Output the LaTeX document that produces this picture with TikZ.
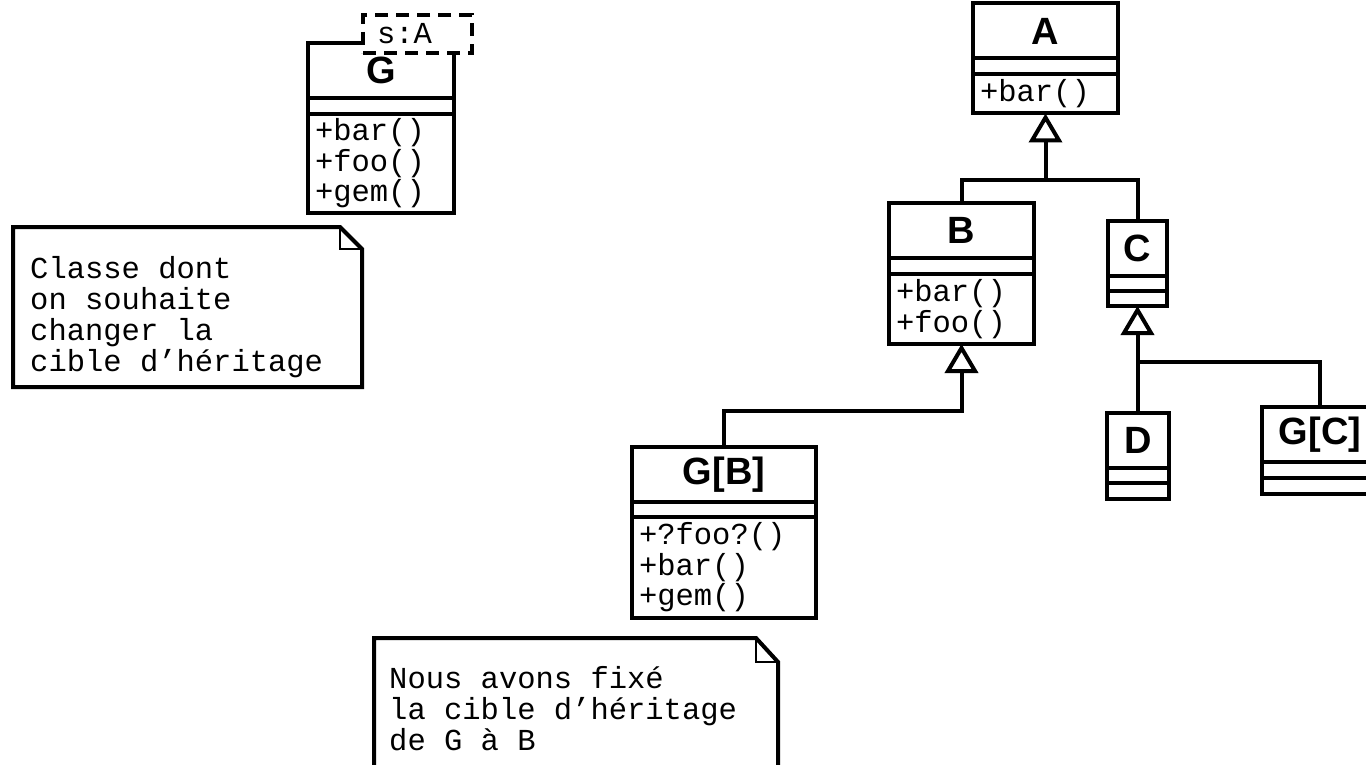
\documentclass[tikz,border=0pt]{standalone}
\usepackage{fontspec}
\setsansfont{Liberation Sans}
\setmonofont{Liberation Mono}
\usetikzlibrary{arrows.meta, positioning, calc}

\newcommand{\clsfont}{\sffamily\bfseries\fontsize{38}{40}\selectfont}
\newcommand{\opsfont}{\ttfamily\fontsize{30.5}{30.5}\selectfont}
\newcommand{\notefont}{\ttfamily\fontsize{30.5}{31}\selectfont}

\tikzset{
  % Class compartments
  clsname/.style={
    rectangle, draw, fill=white, line width=4pt, outer sep=0pt, inner sep=0pt,
    minimum width=#1, minimum height=55, font=\clsfont,
  },
  clsattr/.style={
    rectangle, draw, fill=white, line width=4pt, outer sep=0pt, inner sep=0pt,
    minimum width=#1, minimum height=16,
  },
  clsops/.style={
    rectangle, draw, fill=white, line width=4pt, outer sep=0pt,
    inner xsep=7pt, inner ysep=0pt, text width=#1, align=left, font=\opsfont,
  },
  % Template parameter
  tparam/.style={
    rectangle, draw, fill=white, line width=4pt, dash pattern=on 13pt off 8pt,
    outer sep=0pt, inner xsep=14pt, inner ysep=0pt, text width=81pt,
    minimum height=38, align=left, font=\opsfont,
  },
  % Notes
  notebox/.style={rectangle, outer sep=0pt, inner sep=0pt},
  notetext/.style={inner sep=0pt, align=left, font=\notefont},
  noteline/.style={line width=4pt, line join=miter},
  foldline/.style={line width=2.5pt},
  % Arrows
  inherit/.style={line width=4pt, -{Triangle[open, length=29pt, width=33pt]}},
  assoc/.style={line width=4pt},
}

\begin{document}
\begin{tikzpicture}[x=1pt, y=-1pt]
  \useasboundingbox (0,0) rectangle (1366,765);
  \clip (0,0) rectangle (1366,765);

  % Generic class G
  \node[clsname=146] (Gname) at (381,70.5) {G};
  \node[clsattr=146, below=0pt of Gname] (Gattr) {};
  \node[clsops=132pt, minimum height=99, below=0pt of Gattr] (Gops) {+bar()\\+foo()\\+gem()};
  \node[tparam, anchor=north west] (sA) at (363,15) {s:A};

  % Note on G
  \node[notebox, minimum width=349, minimum height=160] (note1) at (187.5,307) {};
  \draw[noteline] (note1.north west) -- ([xshift=-22pt]note1.north east)
    -- ([yshift=-22pt]note1.north east) -- (note1.south east)
    -- (note1.south west) -- cycle;
  \draw[foldline] ([xshift=-22pt]note1.north east) |- ([yshift=-22pt]note1.north east);
  \node[notetext, below right=29pt and 17pt of note1.north west] (note1txt)
    {Classe dont\\on souhaite\\changer la\\cible d’héritage};

  % Hierarchy A -> B, C
  \node[clsname=145] (Aname) at (1045.5,31) {A};
  \node[clsattr=145, below=0pt of Aname] (Aattr) {};
  \node[clsops=131pt, minimum height=39, below=0pt of Aattr] (Aops) {+bar()};

  \node[clsname=145] (Bname) at (961.5,230.5) {B};
  \node[clsattr=145, below=0pt of Bname] (Battr) {};
  \node[clsops=131pt, minimum height=70, below=0pt of Battr] (Bops) {+bar()\\+foo()};

  \node[clsname=59] (Cname) at (1137.5,248.5) {C};
  \node[clsattr=59, minimum height=15, below=0pt of Cname] (Cattr) {};
  \node[clsattr=59, minimum height=15, below=0pt of Cattr] (Cops) {};

  % Subclasses of C
  \node[clsname=62] (Dname) at (1138,440.5) {D};
  \node[clsattr=62, minimum height=15, below=0pt of Dname] (Dattr) {};
  \node[clsattr=62, below=0pt of Dattr] (Dops) {};

  \node[clsname=116] (GCname) at (1320,434.5) {G[C]};
  \node[clsattr=116, below=0pt of GCname] (GCattr) {};
  \node[clsattr=116, below=0pt of GCattr] (GCops) {};

  % G bound to B
  \node[clsname=184] (GBname) at (724,474.5) {G[B]};
  \node[clsattr=184, minimum height=15, below=0pt of GBname] (GBattr) {};
  \node[clsops=170pt, minimum height=101, below=0pt of GBattr] (GBops) {+?foo?()\\+bar()\\+gem()};

  % Note on G[B]
  \node[notebox, minimum width=404, minimum height=162] (note2) at (576,719) {};
  \draw[noteline] (note2.north west) -- ([xshift=-22pt]note2.north east)
    -- ([yshift=-24pt]note2.north east) -- (note2.south east)
    -- (note2.south west) -- cycle;
  \draw[foldline] ([xshift=-22pt]note2.north east) |- ([yshift=-24pt]note2.north east);
  \node[notetext, below right=28pt and 15pt of note2.north west] (note2txt)
    {Nous avons fixé\\la cible d’héritage\\de G à B};

  % Inheritance
  \coordinate (jA) at ($(Aops.south)+(0,67)$);
  \coordinate (jB) at ($(Bops.south)+(0,67)$);
  \coordinate (jC) at ($(Cops.south)+(0,56)$);
  \draw[inherit] (Bname.north) |- (jA) -- (Aops.south);
  \draw[assoc] (Cname.north) |- (jA);
  \draw[inherit] (GBname.north) |- (jB) -- (Bops.south);
  \draw[inherit] (Dname.north) |- (jC) -- (Cops.south);
  \draw[assoc] (GCname.north) |- (jC);

\end{tikzpicture}
\end{document}
